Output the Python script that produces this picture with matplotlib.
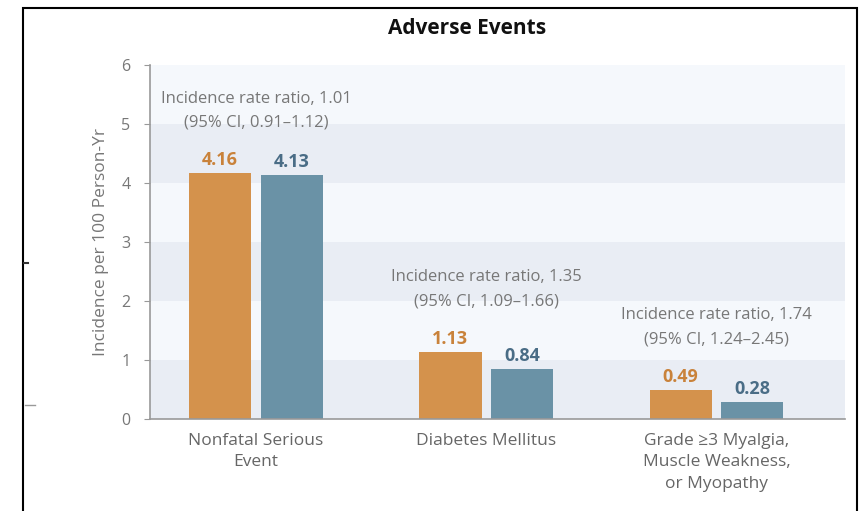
import matplotlib.pyplot as plt
import matplotlib.patches as patches
import numpy as np

plt.rcParams['font.family'] = ['Open Sans', 'DejaVu Sans']

categories = ["Nonfatal Serious\nEvent", "Diabetes Mellitus",
              "Grade \u22653 Myalgia,\nMuscle Weakness,\nor Myopathy"]
orange_vals = [4.16, 1.13, 0.49]
blue_vals = [4.13, 0.84, 0.28]
ratio_notes = ["Incidence rate ratio, 1.01\n(95% CI, 0.91\u20131.12)",
               "Incidence rate ratio, 1.35\n(95% CI, 1.09\u20131.66)",
               "Incidence rate ratio, 1.74\n(95% CI, 1.24\u20132.45)"]
yticks = [0, 1, 2, 3, 4, 5, 6]

orange = "#d4924c"
blue = "#6a92a6"
orange_txt = "#c9823a"
blue_txt = "#4a6d86"
gray_txt = "#777777"

fig = plt.figure(figsize=(8.67, 5.11), dpi=100)
ax = fig.add_axes([0.173, 0.18, 0.802, 0.693])

x = np.arange(len(categories))
w = 0.27
off = 0.155

# alternating background bands
for i in range(6):
    ax.axhspan(i, i + 1, color="#e9edf4" if i % 2 == 0 else "#f5f8fc", zorder=0, lw=0)

ax.bar(x - off, orange_vals, w, color=orange, zorder=2)
ax.bar(x + off, blue_vals, w, color=blue, zorder=2)

for i in range(len(x)):
    ax.text(x[i] - off, orange_vals[i] + 0.07, f"{orange_vals[i]:.2f}", ha="center",
            va="bottom", color=orange_txt, fontsize=13, fontweight="bold")
    ax.text(x[i] + off, blue_vals[i] + 0.07, f"{blue_vals[i]:.2f}", ha="center",
            va="bottom", color=blue_txt, fontsize=13, fontweight="bold")
    top = max(orange_vals[i], blue_vals[i])
    ax.text(x[i], top + 0.72, ratio_notes[i], ha="center", va="bottom",
            color=gray_txt, fontsize=12, linespacing=1.7)

ax.set_xlim(-0.46, 2.56)
ax.set_ylim(0, 6)
ax.set_yticks(yticks)
ax.set_xticks(x)
ax.set_xticklabels(categories, color="#666666", fontsize=12.5, linespacing=1.45)
ax.tick_params(axis="x", length=0, pad=10)
ax.tick_params(axis="y", length=4, color="#999999", labelcolor="#777777",
               labelsize=11.5, direction="out", pad=10)
for s in ["top", "right"]:
    ax.spines[s].set_visible(False)
ax.spines["left"].set_color("#999999")
ax.spines["bottom"].set_color("#999999")
ax.spines["left"].set_linewidth(1.2)
ax.spines["bottom"].set_linewidth(1.2)
ax.set_ylabel("Incidence per 100 Person-Yr", color="#777777", fontsize=12.5, labelpad=9)

fig.text(0.539, 0.945, "Adverse Events", ha="center", va="center",
         fontsize=15, fontweight="bold", color="#111111")

# outer frame
frame = patches.Rectangle((23 / 867, -0.05), (857 - 23) / 867, 1.05 - 8 / 511,
                          transform=fig.transFigure, fill=False, ec="black",
                          lw=1.5, clip_on=False)
fig.patches.append(frame)

# stray marks at left edge
fig.lines.append(plt.Line2D([24 / 867, 28 / 867], [1 - 263 / 511] * 2,
                            transform=fig.transFigure, color="#333333", lw=1.5))
fig.lines.append(plt.Line2D([25 / 867, 35 / 867], [1 - 405 / 511] * 2,
                            transform=fig.transFigure, color="#999999", lw=1))

fig.savefig("out.png", dpi=100)
